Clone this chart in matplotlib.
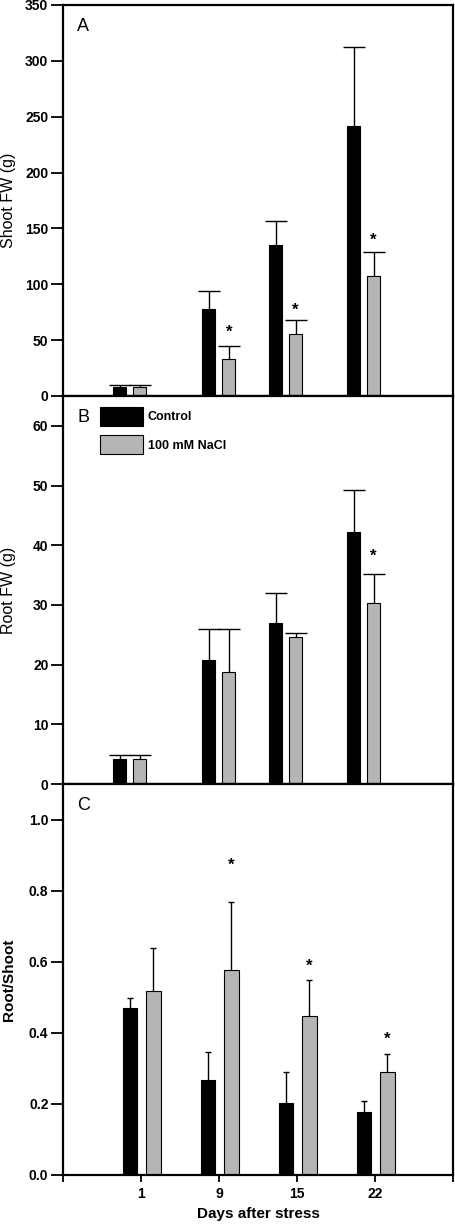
import numpy as np
import matplotlib
matplotlib.use('Agg')
import matplotlib.pyplot as plt

plt.rcParams['font.family'] = ['Liberation Sans', 'DejaVu Sans']

# Sampling days and the tick labels for the bottom panel
days = [1, 9, 15, 22]
day_labels = ['1', '9', '15', '22']

# Panel A - shoot fresh weight (g), mean and upper error
shoot_ctrl = [8.5, 78, 135.5, 242]
shoot_ctrl_err = [1.5, 15.7, 21.5, 70]
shoot_nacl = [8.5, 33, 55.5, 107]
shoot_nacl_err = [1.5, 12, 12.5, 22]
shoot_star = [None, 57, 77, 139]

# Panel B - root fresh weight (g)
root_ctrl = [4.2, 20.7, 26.9, 42.3]
root_ctrl_err = [0.6, 5.3, 5.1, 7.0]
root_nacl = [4.2, 18.8, 24.6, 30.4]
root_nacl_err = [0.6, 7.1, 0.7, 4.7]
root_star = [None, None, None, 38.2]

# Panel C - root/shoot ratio
ratio_ctrl = [0.471, 0.268, 0.202, 0.177]
ratio_ctrl_err = [0.027, 0.077, 0.089, 0.031]
ratio_nacl = [0.519, 0.577, 0.448, 0.291]
ratio_nacl_err = [0.121, 0.190, 0.101, 0.050]
ratio_star = [None, 0.87, 0.587, 0.382]

BLACK = '#000000'
GREY = '#b5b5b5'


def style_axis(ax):
    for sp in ax.spines.values():
        sp.set_linewidth(1.6)
    ax.tick_params(axis='y', direction='out', length=8.5, width=1.3,
                   labelsize=10, pad=2)
    for lab in ax.get_yticklabels():
        lab.set_fontweight('bold')


def upper_err(ax, x, vals, err, cap):
    # only the upper half of the error bar is shown
    eb = ax.errorbar(x, vals, yerr=[np.zeros(len(vals)), err], fmt='none',
                     ecolor='black', elinewidth=1, capsize=cap, capthick=1,
                     zorder=1)
    for cl in eb.lines[1]:
        if np.allclose(cl.get_ydata(), vals):
            cl.set_visible(False)


def panel(ax, x, ctrl, ctrl_err, nacl, nacl_err, stars, off, width, cap):
    xb = np.array(x, dtype=float) + off[0]
    xg = np.array(x, dtype=float) + off[1]
    b1 = ax.bar(xb, ctrl, width, color=BLACK, edgecolor='black',
                linewidth=0.8, label='Control', zorder=2)
    b2 = ax.bar(xg, nacl, width, color=GREY, edgecolor='black',
                linewidth=0.8, label='100 mM NaCl', zorder=2)
    upper_err(ax, xb, ctrl, ctrl_err, cap)
    upper_err(ax, xg, nacl, nacl_err, cap)
    for xi, s in zip(xg, stars):
        if s is not None:
            ax.text(xi, s, '*', ha='center', va='center', fontsize=12,
                    fontweight='bold')
    return b1, b2


def main():
    fig = plt.figure(figsize=(4.55, 12.28), dpi=100)
    left, width = 63 / 455, 390 / 455
    axA = fig.add_axes([left, 1 - 396 / 1228, width, 391 / 1228])
    axB = fig.add_axes([left, 1 - 784 / 1228, width, 388 / 1228])
    axC = fig.add_axes([left, 1 - 1175 / 1228, width, 391 / 1228])

    # A and B use the real day scale
    panel(axA, days, shoot_ctrl, shoot_ctrl_err, shoot_nacl, shoot_nacl_err,
          shoot_star, (-0.92, 0.88), 1.2, 8)
    axA.set_xlim(-5, 30)
    axA.set_ylim(0, 350)
    axA.set_yticks(np.arange(0, 351, 50))
    axA.set_ylabel('Shoot FW (g)', fontsize=11.5)

    b1, b2 = panel(axB, days, root_ctrl, root_ctrl_err, root_nacl,
                   root_nacl_err, root_star, (-0.92, 0.88), 1.2, 8)
    axB.set_xlim(-5, 30)
    axB.set_ylim(0, 65)
    axB.set_yticks(np.arange(0, 61, 10))
    axB.set_ylabel('Root FW (g)', fontsize=11.5)
    axB.legend(handles=[b1, b2], loc='upper left',
               bbox_to_anchor=(0.095, 0.972), frameon=False,
               prop={'weight': 'bold', 'size': 9}, borderpad=0,
               borderaxespad=0, handlelength=3.4, handleheight=2.0,
               handletextpad=0.4, labelspacing=0.7)

    # C is drawn on evenly spaced categories
    pos = np.arange(len(days))
    panel(axC, pos, ratio_ctrl, ratio_ctrl_err, ratio_nacl, ratio_nacl_err,
          ratio_star, (-0.14, 0.16), 0.19, 2.2)
    axC.set_xlim(-1, 4)
    axC.set_ylim(0, 1.1)
    axC.set_yticks(np.arange(0, 1.01, 0.2))
    axC.set_yticklabels(['%.1f' % v for v in np.arange(0, 1.01, 0.2)])
    axC.set_xticks([-1, 0, 1, 2, 3, 4])
    axC.set_xticklabels([''] + day_labels + [''])
    axC.tick_params(axis='x', direction='out', length=5, width=1.3,
                    labelsize=10, pad=4)
    for lab in axC.get_xticklabels():
        lab.set_fontweight('bold')
    axC.set_ylabel('Root/Shoot', fontsize=11, fontweight='bold')
    axC.set_xlabel('Days after stress', fontsize=11, fontweight='bold')

    for ax, letter in zip([axA, axB, axC], 'ABC'):
        style_axis(ax)
        ax.yaxis.set_label_coords(-0.12, 0.5)
        ax.text(0.036, 0.944, letter, transform=ax.transAxes, ha='left',
                va='center', fontsize=13)
    for ax in [axA, axB]:
        ax.tick_params(axis='x', bottom=False, labelbottom=False)

    fig.savefig('out.png', dpi=100)


if __name__ == '__main__':
    main()
